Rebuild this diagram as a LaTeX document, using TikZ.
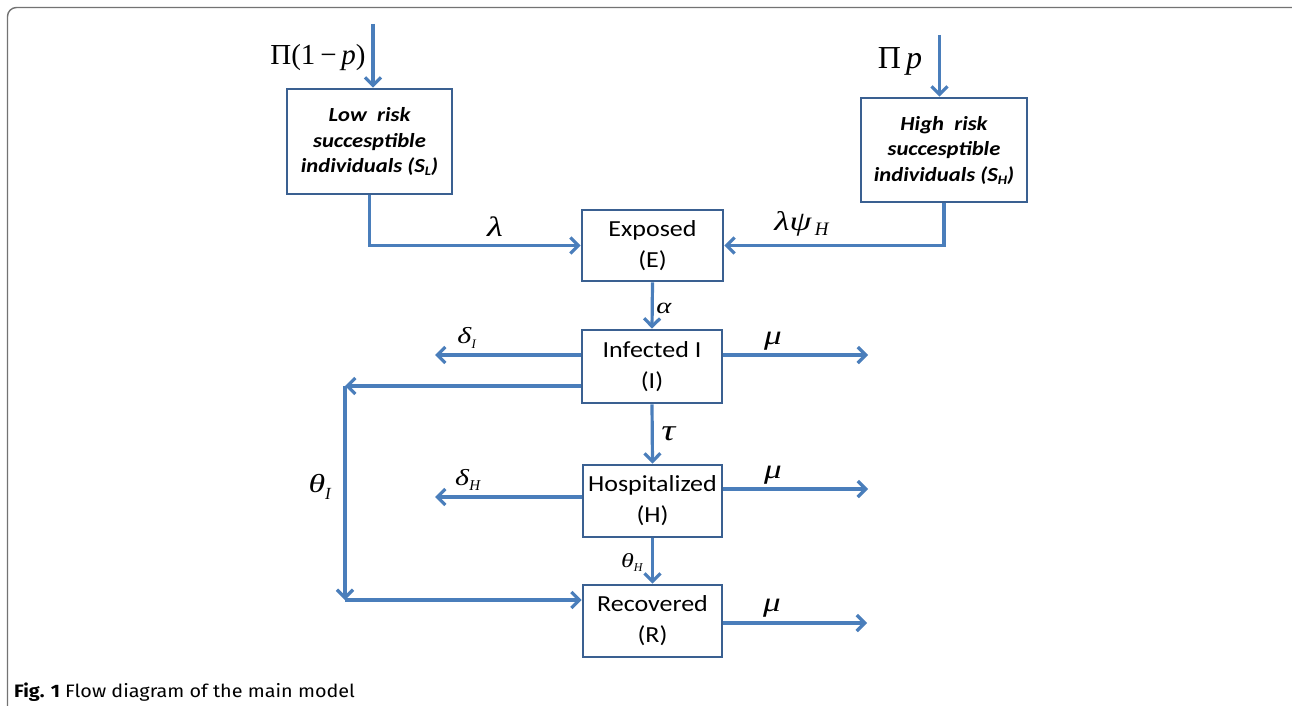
\documentclass[tikz,border=0pt]{standalone}
\usepackage{fontspec}
\setmainfont{Carlito}
\newfontfamily\boxfont[FakeStretch=1.13]{Carlito}
\newfontfamily\lblfont{Liberation Serif}
\newfontfamily\grkfont[FakeStretch=1.3]{Liberation Serif}
\newfontfamily\capfont[FakeStretch=1.1]{Fira Sans}
\usetikzlibrary{arrows.meta,calc}
\definecolor{flowc}{RGB}{74,126,187}
\definecolor{borderc}{RGB}{58,96,145}
\definecolor{framec}{RGB}{115,115,115}
\tikzset{
  flow/.style={draw=flowc, line width=3.2pt, -{Straight Barb[length=8pt,width=16pt]}},
  comp/.style={draw=borderc, line width=2.8pt, rectangle, inner sep=0pt, align=center,
    font=\boxfont\fontsize{23}{31}\selectfont},
  sus/.style={draw=borderc, line width=2.8pt, rectangle, inner sep=0pt, align=center,
    font=\boxfont\fontsize{20}{25.5}\selectfont\bfseries\itshape},
  lbl/.style={inner sep=0pt, font=\lblfont},
  grk/.style={inner sep=0pt, font=\grkfont}
}
\begin{document}
\begin{tikzpicture}[x=1pt,y=-1pt]
\useasboundingbox (0,0) rectangle (1292,706);
\begin{scope}
  \clip (0,0) rectangle (1292,706);
  \draw[framec, line width=1.4pt, rounded corners=9pt] (7.5,7.5) rectangle (1301,740);
\end{scope}

% compartments
\node[sus, minimum width=165pt, minimum height=105pt] (SL) at (369.5,141.5)
  {Low\ \ risk\\succesptible\\individuals (S\raisebox{-3pt}{\fontsize{13}{13}\selectfont L})};
\node[sus, minimum width=166pt, minimum height=104pt] (SH) at (944,150)
  {High\ \ risk\\succesptible\\individuals (S\raisebox{-3pt}{\fontsize{13}{13}\selectfont H})};
\node[comp, minimum width=141pt, minimum height=71pt] (E) at (652.5,245.5) {Exposed\\(E)};
\node[comp, minimum width=140pt, minimum height=73pt] (I) at (652,366.5) {Infected I\\(I)};
\node[comp, minimum width=139pt, minimum height=72pt] (H) at (652.5,501) {Hospitalized\\(H)};
\node[comp, minimum width=139pt, minimum height=72pt] (R) at (652.5,621) {Recovered\\(R)};

% free ends
\coordinate (inL) at (373,24);
\coordinate (inH) at (939.5,35);
\coordinate (dI) at (435,355);
\coordinate (mI) at (868,355);
\coordinate (tI) at (345,386);
\coordinate (tI2) at (345,600);
\coordinate (dH) at (435,497);
\coordinate (mH) at (868,489);
\coordinate (mR) at (867,623);

% connectors
\draw[flow] (inL) -- (inL |- SL.north);
\draw[flow] (inH) -- (inH |- SH.north);
\draw[flow] (SL.south) |- (E.west);
\draw[flow] (SH.south) |- (E.east);
\draw[flow] (E.south) -- (I.north);
\draw[flow] (I.west |- dI) -- (dI);
\draw[flow] (I.east |- mI) -- (mI);
\draw[flow] (I.west |- tI) -- (tI);
\draw[flow] (tI) -- (tI2);
\draw[flow] (tI2) -- (tI2 -| R.west);
\draw[flow] (I.south) -- (H.north);
\draw[flow] (H.west |- dH) -- (dH);
\draw[flow] (H.east |- mH) -- (mH);
\draw[flow] (H.south) -- (R.north);
\draw[flow] (R.east |- mR) -- (mR);

% labels
\node[lbl] (lPiL) at (318,58) {\fontsize{29}{29}\selectfont Π(1\,−\,\textit{p})};
\node[lbl] (lPiH) at (900,61) {\fontsize{32}{32}\selectfont Π\,\textit{p}};
\node[grk] (llam) at (495,227) {\fontsize{28}{28}\selectfont\textit{λ}};
\node[grk] (llpsi) at (802,224) {\fontsize{27}{27}\selectfont\textit{λψ}\kern3pt\raisebox{-5pt}{\lblfont\fontsize{19}{19}\selectfont\textit{H}}};
\node[grk] (lalpha) at (664,308) {\fontsize{22}{22}\selectfont\textit{α}};
\node[grk] (ldI) at (467,338) {\fontsize{23}{23}\selectfont\textit{δ}\raisebox{-5pt}{\lblfont\fontsize{13}{13}\selectfont\textit{I}}};
\node[grk] (lmI) at (773,341) {\fontsize{27}{27}\selectfont\textit{μ}};
\node[grk] (ltau) at (669,434) {\fontsize{30}{30}\selectfont\textit{τ}};
\node[grk] (ltI) at (320,487) {\fontsize{26}{26}\selectfont\textit{θ}\raisebox{-7pt}{\lblfont\fontsize{17}{17}\selectfont\textit{I}}};
\node[grk] (ldH) at (468,480) {\fontsize{23}{23}\selectfont\textit{δ}\raisebox{-5pt}{\lblfont\fontsize{15}{15}\selectfont\textit{H}}};
\node[grk] (lmH) at (773,475) {\fontsize{27}{27}\selectfont\textit{μ}};
\node[grk] (ltH) at (632,563) {\fontsize{20}{20}\selectfont\textit{θ}\raisebox{-4pt}{\lblfont\fontsize{12}{12}\selectfont\textit{H}}};
\node[grk] (lmR) at (772,608) {\fontsize{27}{27}\selectfont\textit{μ}};

% caption
\node[anchor=base west, inner sep=0pt] (cap) at (14,697.7)
  {\capfont\fontsize{18}{18}\selectfont\textbf{Fig. 1} Flow diagram of the main model};
\end{tikzpicture}
\end{document}
